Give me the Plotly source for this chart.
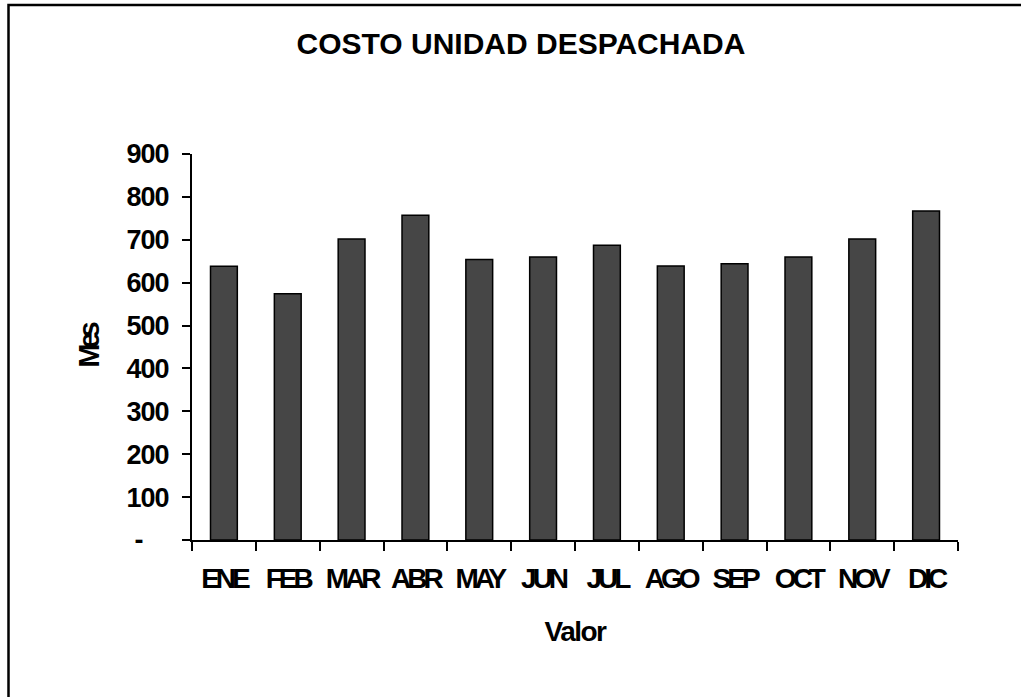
import plotly.graph_objects as go

months = ["ENE", "FEB", "MAR", "ABR", "MAY", "JUN", "JUL", "AGO", "SEP", "OCT", "NOV", "DIC"]
values = [638, 574, 702, 757, 654, 660, 687, 639, 644, 660, 702, 767]
y_ticks = [0, 100, 200, 300, 400, 500, 600, 700, 800, 900]
y_ticktext = ["-\u00a0\u00a0\u00a0\u00a0", "100", "200", "300", "400", "500", "600", "700", "800", "900"]

FONT = "Liberation Sans, Arial, sans-serif"

W, H = 1021, 697
L, R, T, B = 192, 63, 154, 157
pw, ph = W - L - R, H - T - B


def px_x(p):
    return (p - L) / pw


def px_y(p):
    return (H - B - p) / ph


fig = go.Figure(
    go.Bar(
        x=months,
        y=values,
        width=0.42,
        marker=dict(color="#464646", line=dict(color="black", width=1.5)),
    )
)

fig.update_layout(
    width=W,
    height=H,
    margin=dict(l=L, r=R, t=T, b=B, pad=0),
    paper_bgcolor="white",
    plot_bgcolor="white",
    showlegend=False,
    title=dict(
        text="<b>COSTO UNIDAD DESPACHADA</b>",
        font=dict(family=FONT, size=30, color="black"),
        x=521 / W,
        xanchor="center",
        y=1 - 43 / H,
        yanchor="middle",
        xref="container",
        yref="container",
    ),
    shapes=[
        dict(
            type="rect",
            xref="paper",
            yref="paper",
            x0=px_x(8.5),
            x1=px_x(1030),
            y0=px_y(705),
            y1=px_y(5),
            line=dict(color="black", width=2.5),
            fillcolor="rgba(0,0,0,0)",
            layer="below",
        )
    ],
)

fig.update_xaxes(
    showline=True,
    linecolor="black",
    linewidth=2,
    ticks="outside",
    tickson="boundaries",
    ticklen=9,
    tickwidth=2,
    tickcolor="black",
    showgrid=False,
    tickangle=0,
    tickfont=dict(family=FONT, size=28, color="black", weight="bold"),
    ticklabelstandoff=12,
    title=dict(
        text="<b>Valor</b>",
        font=dict(family=FONT, size=28, color="black"),
        standoff=29,
    ),
)

fig.update_yaxes(
    range=[0, 900],
    showline=True,
    linecolor="black",
    linewidth=2,
    ticks="outside",
    ticklen=8,
    tickwidth=2,
    tickcolor="black",
    showgrid=False,
    zeroline=False,
    tickvals=y_ticks,
    ticktext=y_ticktext,
    tickfont=dict(family=FONT, size=27, color="black", weight="bold"),
    ticklabelstandoff=8,
    title=dict(
        text="<b>Mes</b>",
        font=dict(family=FONT, size=29, color="black"),
        standoff=15,
    ),
)

post = """
document.body.style.margin = '0px';
var gd = document.getElementById('{plot_id}');
function tighten() {
  gd.querySelectorAll('.xtick text').forEach(function(t){ t.style.letterSpacing = '-4px'; });
  gd.querySelectorAll('.ytick text').forEach(function(t){ t.style.letterSpacing = '-1px'; });
  gd.querySelectorAll('.g-xtitle text').forEach(function(t){ t.style.letterSpacing = '-1.5px'; });
  gd.querySelectorAll('.g-ytitle text').forEach(function(t){ t.style.letterSpacing = '-5px'; });
}
tighten();
gd.on('plotly_afterplot', tighten);
"""

fig.write_html("out.html", post_script=post, config={"displayModeBar": False})
